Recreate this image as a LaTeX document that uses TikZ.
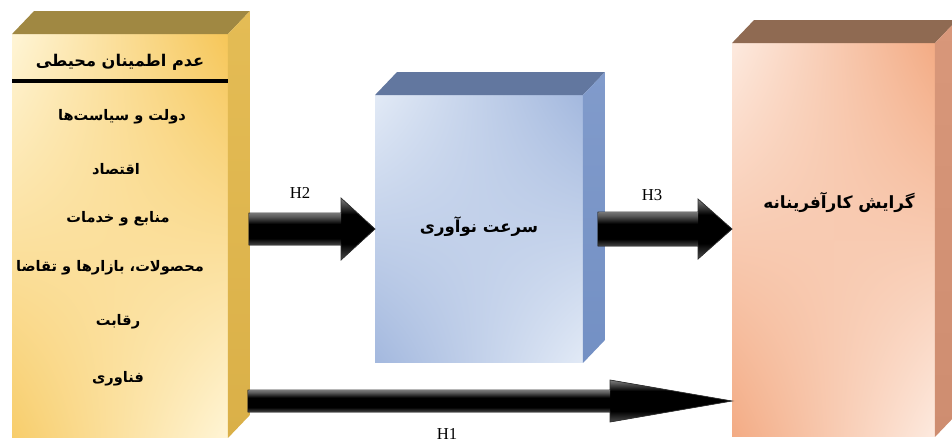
\documentclass[tikz,border=0pt]{standalone}
\usepackage{fontspec}
\setmainfont{Liberation Serif}
\newfontfamily\fa[Script=Arabic]{DejaVu Sans}
\TeXXeTstate=1
\usetikzlibrary{calc,shadings}
\definecolor{Ltop}{HTML}{A08842}
\definecolor{Lside}{HTML}{E4BC55}
\definecolor{Lside2}{HTML}{DAB048}
\definecolor{Llight}{HTML}{FFF5D6}
\definecolor{Lgold}{HTML}{F6C658}
\definecolor{Mtop}{HTML}{62779F}
\definecolor{Mside}{HTML}{819BCB}
\definecolor{Mside2}{HTML}{7390C4}
\definecolor{Mlight}{HTML}{E2EAF6}
\definecolor{Mdark}{HTML}{A3B8DE}
\definecolor{Rtop}{HTML}{8F6A52}
\definecolor{Rside}{HTML}{D8977A}
\definecolor{Rside2}{HTML}{CE8D70}
\definecolor{Rlight}{HTML}{FDEADF}
\definecolor{Rdark}{HTML}{F3AB84}
\pgfdeclareverticalshading{arrowsh}{100bp}{color(0bp)=(black!70); color(25bp)=(black!70); color(38bp)=(black); color(62bp)=(black); color(75bp)=(black!50); color(100bp)=(black!50)}
\pgfdeclareverticalshading{shaftsh}{100bp}{color(0bp)=(black!75); color(25bp)=(black!75); color(35bp)=(black); color(58bp)=(black); color(70bp)=(black!65); color(75bp)=(black!55); color(100bp)=(black!55)}
\tikzset{
  front/.style={inner sep=0pt, outer sep=0pt},
  fatext/.style={font=\fa\bfseries, inner sep=0pt},
  hlabel/.style={font=\fontsize{9.5}{11}\selectfont, inner sep=0pt},
  arrowbody/.style={draw=black!80, line width=0.4pt, shading=arrowsh},
  shaft/.style={shading=shaftsh},
}
\begin{document}
\begin{tikzpicture}[x=0.02cm,y=-0.02cm]
\useasboundingbox (0,0) rectangle (952,443);
% front faces as nodes
\node[front, minimum width=4.32cm, minimum height=8.08cm] (L) at (120,236) {};
\node[front, minimum width=4.16cm, minimum height=5.36cm] (M) at (479,229) {};
\node[front, minimum width=4.06cm, minimum height=7.88cm] (R) at (833.5,240) {};
\coordinate (d) at (22,-23);
% --- left box
\shade[upper left=Llight, upper right=Lgold, lower left=Lgold!85!Llight, lower right=Llight]
  (L.south west) rectangle (L.north east);
\fill[Ltop] (L.north west) -- ($(L.north west)+(d)$) -- ($(L.north east)+(d)$) -- (L.north east) -- cycle;
\shade[top color=Lside, bottom color=Lside2] (L.north east) -- ($(L.north east)+(d)$) -- ($(L.south east)+(d)$) -- (L.south east) -- cycle;
% --- middle box
\shade[upper left=Mlight, upper right=Mdark, lower left=Mdark, lower right=Mlight]
  (M.south west) rectangle (M.north east);
\fill[Mtop] (M.north west) -- ($(M.north west)+(d)$) -- ($(M.north east)+(d)$) -- (M.north east) -- cycle;
\shade[top color=Mside, bottom color=Mside2] (M.north east) -- ($(M.north east)+(d)$) -- ($(M.south east)+(d)$) -- (M.south east) -- cycle;
% --- right box
\shade[upper left=Rlight, upper right=Rdark, lower left=Rdark, lower right=Rlight]
  (R.south west) rectangle (R.north east);
\fill[Rtop] (R.north west) -- ($(R.north west)+(d)$) -- ($(R.north east)+(d)$) -- (R.north east) -- cycle;
\shade[top color=Rside, bottom color=Rside2] (R.north east) -- ($(R.north east)+(d)$) -- ($(R.south east)+(d)$) -- (R.south east) -- cycle;
% title line
\coordinate (lineA) at ($(L.north west)+(0,47)$);
\coordinate (lineB) at ($(L.north east)+(0,47)$);
\draw[line width=1.8pt] (lineA) -- (lineB);
% texts left
\node[fatext, font=\fa\bfseries\fontsize{9.2}{11}\selectfont] (t0) at (120,62) {\beginR عدم اطمینان محیطی\endR};
\node[fatext, font=\fa\bfseries\fontsize{8.3}{10}\selectfont] (t1) at (122,117) {\beginR دولت و سیاست‌ها\endR};
\node[fatext, font=\fa\bfseries\fontsize{8.3}{10}\selectfont] (t2) at (116,169) {\beginR اقتصاد\endR};
\node[fatext, font=\fa\bfseries\fontsize{8.3}{10}\selectfont] (t3) at (118,219) {\beginR منابع و خدمات\endR};
\node[fatext, font=\fa\bfseries\fontsize{8.3}{10}\selectfont] (t4) at (110,268) {\beginR محصولات، بازارها و تقاضا\endR};
\node[fatext, font=\fa\bfseries\fontsize{8.3}{10}\selectfont] (t5) at (118,322) {\beginR رقابت\endR};
\node[fatext, font=\fa\bfseries\fontsize{8.3}{10}\selectfont] (t6) at (118,379) {\beginR فناوری\endR};
\node[fatext, font=\fa\bfseries\fontsize{9.4}{11}\selectfont] (tm) at (479,227) {\beginR سرعت نوآوری\endR};
\node[fatext, font=\fa\bfseries\fontsize{9.6}{11}\selectfont] (tr) at (839,202) {\beginR گرایش کارآفرینانه\endR};
% arrows
\coordinate (H2s) at ($(L.east |- M.center)+(21,0)$);
\coordinate (H2e) at (M.west);
\filldraw[arrowbody]
  ($(H2s)+(0,-16)$) -- ($(H2e)+(-34,-16)$) -- ($(H2e)+(-34,-31)$) -- (H2e)
  -- ($(H2e)+(-34,31)$) -- ($(H2e)+(-34,16)$) -- ($(H2s)+(0,16)$) -- cycle;
\shade[shaft] ($(H2s)+(0.5,-15.6)$) rectangle ($(H2e)+(-34,15.6)$);
\coordinate (H3s) at ($(M.east)+(15,0)$);
\coordinate (H3e) at (R.west |- M.center);
\filldraw[arrowbody]
  ($(H3s)+(0,-17)$) -- ($(H3e)+(-34,-17)$) -- ($(H3e)+(-34,-30)$) -- (H3e)
  -- ($(H3e)+(-34,30)$) -- ($(H3e)+(-34,17)$) -- ($(H3s)+(0,17)$) -- cycle;
\shade[shaft] ($(H3s)+(0.5,-16.6)$) rectangle ($(H3e)+(-34,16.6)$);
\coordinate (H1s) at ($(L.east)+(20,165)$);
\coordinate (H1e) at (R.west |- H1s);
\filldraw[arrowbody]
  ($(H1s)+(0,-11)$) -- ($(H1e)+(-122,-11)$) -- ($(H1e)+(-122,-21)$) -- (H1e)
  -- ($(H1e)+(-122,21)$) -- ($(H1e)+(-122,11)$) -- ($(H1s)+(0,11)$) -- cycle;
\shade[shaft] ($(H1s)+(0.5,-10.6)$) rectangle ($(H1e)+(-122,10.6)$);
% labels
\node[hlabel] (h2) at (300,193) {H2};
\node[hlabel] (h3) at (652,195) {H3};
\node[hlabel] (h1) at (447,434) {H1};
\end{tikzpicture}
\end{document}
